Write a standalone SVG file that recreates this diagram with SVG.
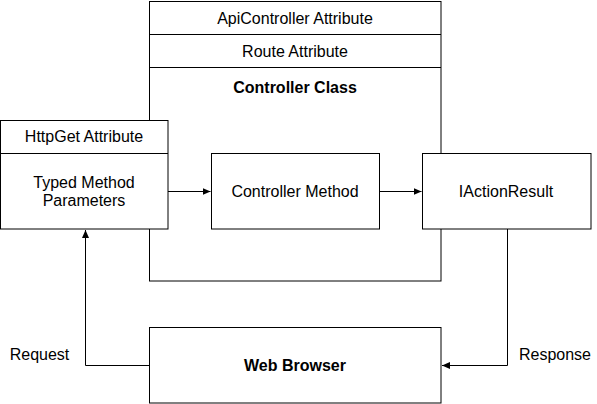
<svg xmlns="http://www.w3.org/2000/svg" width="597" height="404" viewBox="0 0 597 404">
<style>
.box{fill:#fff;stroke:#000;stroke-width:1}
.ln{fill:none;stroke:#000;stroke-width:1}
text{font-family:"Liberation Sans",Arial,Helvetica,sans-serif;font-size:16px;fill:#000;text-anchor:middle;dominant-baseline:central}
.b{font-weight:bold}
</style>
<defs>
<marker id="arr" viewBox="0 0 8 8" refX="8" refY="4" markerWidth="8" markerHeight="8" markerUnits="userSpaceOnUse" orient="auto">
<path d="M0,0.5 L8,4 L0,7.5 Z" fill="#000"/>
</marker>
</defs>
<rect width="597" height="404" fill="#fff"/>
<g id="controller-class">
<rect class="box" x="149.5" y="1.5" width="291.5" height="279.5"/>
<line class="ln" x1="149.5" y1="34.5" x2="441" y2="34.5"/>
<line class="ln" x1="149.5" y1="67.5" x2="441" y2="67.5"/>
<text x="295" y="18">ApiController Attribute</text>
<text x="295" y="51">Route Attribute</text>
<text class="b" x="295" y="87">Controller Class</text>
</g>
<g id="httpget">
<rect class="box" x="0.5" y="120.5" width="167.5" height="108.5"/>
<line class="ln" x1="0.5" y1="153.5" x2="168" y2="153.5"/>
<text x="84" y="136">HttpGet Attribute</text>
<text x="84" y="182">Typed Method</text>
<text x="84" y="200">Parameters</text>
</g>
<g id="controller-method">
<rect class="box" x="211.5" y="153.5" width="168" height="75.5"/>
<text x="295" y="191">Controller Method</text>
</g>
<g id="iactionresult">
<rect class="box" x="422.5" y="153.5" width="168.5" height="75.5"/>
<text x="506" y="191">IActionResult</text>
</g>
<g id="web-browser">
<rect class="box" x="149.5" y="327.5" width="291.5" height="75.5"/>
<text class="b" x="295" y="365">Web Browser</text>
</g>
<g id="connectors">
<line class="ln" x1="168" y1="191.5" x2="210.5" y2="191.5" marker-end="url(#arr)"/>
<line class="ln" x1="379.5" y1="191.5" x2="421.5" y2="191.5" marker-end="url(#arr)"/>
<polyline class="ln" points="149.5,365.5 85.5,365.5 85.5,230" marker-end="url(#arr)"/>
<polyline class="ln" points="507.5,229 507.5,365.5 442,365.5" marker-end="url(#arr)"/>
<text x="39.5" y="354">Request</text>
<text x="555" y="354">Response</text>
</g>
</svg>
